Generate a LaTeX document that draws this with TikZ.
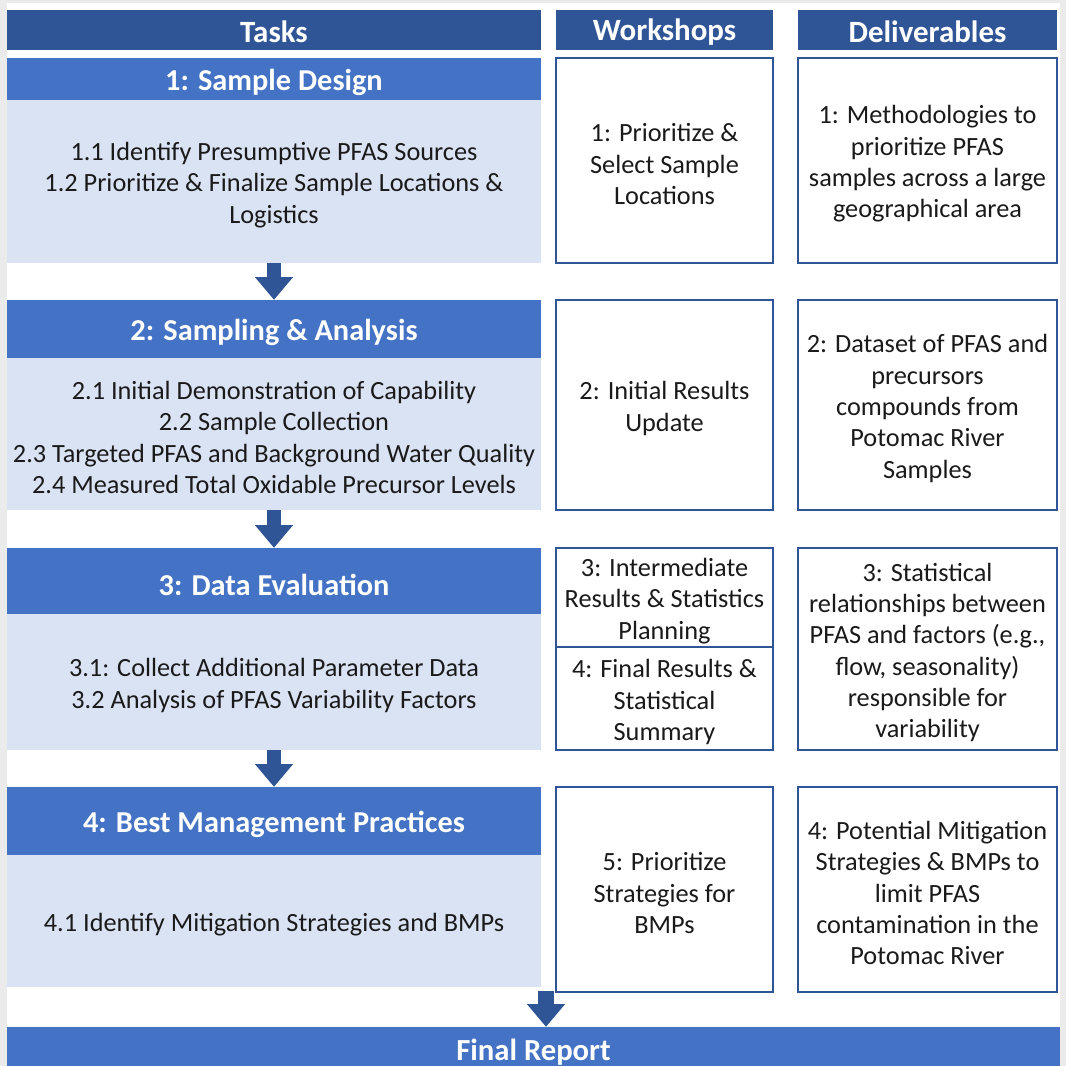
\documentclass[tikz,border=0pt]{standalone}
\usepackage{fontspec}
\setmainfont{Carlito}
\usetikzlibrary{arrows.meta}

\definecolor{headblue}{HTML}{2F5597}
\definecolor{titleblue}{HTML}{4472C4}
\definecolor{bodyblue}{HTML}{DAE3F3}
\definecolor{framegray}{HTML}{EBEBEB}
\definecolor{inktext}{HTML}{1A1A1A}

% strut at the start of a text block, drops its lines a little
\newcommand{\lift}{\rule{0pt}{18.1pt}}

\tikzset{
  cell/.style 2 args={minimum width=#1*0.25mm, minimum height=#2*0.25mm},
  textdrop/.style={execute at begin node={\rule{0pt}{\dimexpr0.74em+#1\relax}}},
  headbox/.style={fill=headblue, text=white, inner sep=0pt, textdrop=1.4pt,
    font=\fontsize{22}{26}\selectfont\bfseries},
  titlebox/.style={fill=titleblue, text=white, inner sep=0pt, textdrop=4.3pt,
    font=\fontsize{21.6}{26}\selectfont\bfseries},
  bodybox/.style={fill=bodyblue, text=inktext, inner sep=0pt, align=center,
    font=\fontsize{18.7}{22.3}\selectfont},
  outbox/.style={draw=headblue, line width=1.1pt, fill=white, text=inktext,
    inner sep=0pt, align=center, font=\fontsize{18.7}{22.3}\selectfont},
  flow/.style={draw=headblue, line width=10pt,
    -{Triangle[width=27pt,length=16pt,line width=0pt]}}
}

\begin{document}
\begin{tikzpicture}[x=0.25mm, y=-0.25mm]
\fill[framegray] (0,0) rectangle (1066,1066);
\fill[white] (7,3) rectangle (1060,1066);
\useasboundingbox (0,0) rectangle (1066,1066);

% column heads
\node[headbox, cell={534}{40}] (tasks) at (274,30) {Tasks};
\node[headbox, cell={217}{40}] (workshops) at (664.5,30) {Workshops};
\node[headbox, cell={259}{40}] (deliverables) at (927.5,30) {Deliverables};

% task 1
\node[titlebox, cell={534}{42}] (title1) at (274,79) {1: Sample Design};
\node[bodybox, cell={534}{163}] (body1) at (274,181.5)
  {\lift1.1 Identify Presumptive PFAS Sources\\1.2 Prioritize \& Finalize Sample Locations \&\\Logistics};
\node[outbox, cell={217}{205}] (shop1) at (664.5,160.5)
  {\lift1: Prioritize \&\\Select Sample\\Locations};
\node[outbox, cell={259}{205}] (deliv1) at (927.5,160.5)
  {\lift1: Methodologies to\\prioritize PFAS\\samples across a large\\geographical area};

% task 2
\node[titlebox, cell={534}{58}] (title2) at (274,329) {2: Sampling \& Analysis};
\node[bodybox, cell={534}{152}] (body2) at (274,434)
  {\lift2.1 Initial Demonstration of Capability\\2.2 Sample Collection\\2.3 Targeted PFAS and Background Water Quality\\2.4 Measured Total Oxidable Precursor Levels};
\node[outbox, cell={217}{210}] (shop2) at (664.5,405)
  {\lift2: Initial Results\\Update};
\node[outbox, cell={259}{210}] (deliv2) at (927.5,405)
  {\lift2: Dataset of PFAS and\\precursors\\compounds from\\Potomac River\\Samples};

% task 3
\node[titlebox, cell={534}{66}] (title3) at (274,581) {3: Data Evaluation};
\node[bodybox, cell={534}{136}] (body3) at (274,682)
  {\lift3.1: Collect Additional Parameter Data\\3.2 Analysis of PFAS Variability Factors};
\node[outbox, cell={217}{99}] (shop3) at (664.5,597.5)
  {\lift3: Intermediate\\Results \& Statistics\\Planning};
\node[outbox, cell={217}{103}] (shop4) at (664.5,698.5)
  {\lift4: Final Results \&\\Statistical\\Summary};
\node[outbox, cell={259}{202}] (deliv3) at (927.5,649)
  {\lift3: Statistical\\relationships between\\PFAS and factors (e.g.,\\flow, seasonality)\\responsible for\\variability};

% task 4
\node[titlebox, cell={534}{68}] (title4) at (274,821) {4: Best Management Practices};
\node[bodybox, cell={534}{132}] (body4) at (274,921)
  {\lift4.1 Identify Mitigation Strategies and BMPs};
\node[outbox, cell={217}{205}] (shop5) at (664.5,889.5)
  {\lift5: Prioritize\\Strategies for\\BMPs};
\node[outbox, cell={259}{205}] (deliv4) at (927.5,889.5)
  {\lift4: Potential Mitigation\\Strategies \& BMPs to\\limit PFAS\\contamination in the\\Potomac River};

% final report
\node[titlebox, cell={1053}{43}, textdrop=2.8pt,
  font=\fontsize{21.8}{26}\selectfont\bfseries] (final) at (533.5,1048.5) {Final Report};

% arrows
\draw[flow] (body1.south) -- (title2.north);
\draw[flow] (body2.south) -- (title3.north);
\draw[flow] (body3.south) -- (title4.north);
\coordinate (reportfrom) at (546,991);
\draw[flow, line width=12pt] (reportfrom) -- (reportfrom |- final.north);
\end{tikzpicture}
\end{document}
